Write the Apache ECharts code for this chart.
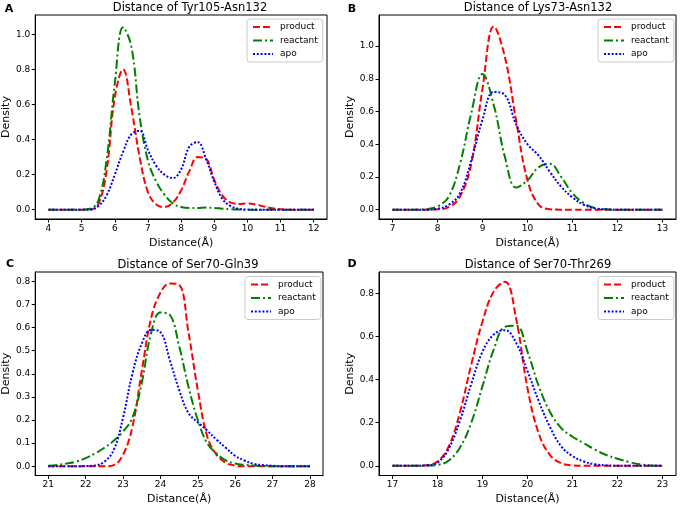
<!DOCTYPE html>
<html><head><meta charset="utf-8">
<script src="https://cdn.jsdelivr.net/npm/echarts@6/dist/echarts.min.js"></script>
<style>html,body{margin:0;padding:0;background:#fff}#c{width:680px;height:506px}</style>
</head><body><div id="c"></div>
<script>
// ---------- DATA ----------
const seriesNames = ['product', 'reactant', 'apo'];

// Panel A: Tyr105-Asn132
const titleA = 'Distance of Tyr105-Asn132';
const xA = [4,4.25,4.5,4.75,5,5.25,5.5,5.75,6,6.25,6.5,6.75,7,7.25,7.5,7.75,8,8.25,8.5,8.75,9,9.25,9.5,9.75,10,10.25,10.5,10.75,11,11.25,11.5,11.75,12];
const productA = [0,0,0,0,0,0.002,0.03,0.22,0.64,0.80,0.58,0.30,0.10,0.03,0.015,0.04,0.11,0.22,0.30,0.29,0.17,0.08,0.04,0.033,0.035,0.03,0.018,0.008,0.002,0,0,0,0];
const reactantA = [0,0,0,0,0,0.005,0.05,0.28,0.72,1.04,0.93,0.53,0.28,0.16,0.085,0.035,0.015,0.01,0.01,0.012,0.01,0.006,0.003,0.001,0,0,0,0,0,0,0,0,0];
const apoA = [0,0,0,0,0,0,0.02,0.08,0.20,0.33,0.43,0.45,0.34,0.25,0.20,0.18,0.23,0.36,0.385,0.29,0.16,0.06,0.02,0.005,0.001,0,0,0,0,0,0,0,0];
const xTicksA = [4,5,6,7,8,9,10,11,12];
const yTicksA = [0,0.2,0.4,0.6,0.8,1.0];

// Panel B: Lys73-Asn132
const titleB = 'Distance of Lys73-Asn132';
const xB = [7,7.25,7.5,7.75,8,8.25,8.5,8.75,9,9.25,9.5,9.75,10,10.25,10.5,10.75,11,11.25,11.5,11.75,12,12.25,12.5,12.75,13];
const productB = [0,0,0,0,0.002,0.015,0.08,0.28,0.74,1.12,0.93,0.54,0.18,0.03,0.003,0,0,0,0,0,0,0,0,0,0];
const reactantB = [0,0,0,0.003,0.02,0.08,0.28,0.59,0.83,0.64,0.32,0.135,0.18,0.26,0.28,0.20,0.10,0.04,0.01,0.002,0,0,0,0,0];
const apoB = [0,0,0,0,0.005,0.03,0.10,0.30,0.55,0.72,0.70,0.52,0.40,0.33,0.23,0.14,0.075,0.03,0.008,0.002,0,0,0,0,0];
const xTicksB = [7,8,9,10,11,12,13];
const yTicksB = [0,0.2,0.4,0.6,0.8,1.0];

// Panel C: Ser70-Gln39
const titleC = 'Distance of Ser70-Gln39';
const xC = [21,21.25,21.5,21.75,22,22.25,22.5,22.75,23,23.25,23.5,23.75,24,24.25,24.5,24.75,25,25.25,25.5,25.75,26,26.25,26.5,26.75,27,27.25,27.5,27.75,28];
const productC = [0,0,0,0,0,0,0,0.005,0.05,0.17,0.41,0.64,0.75,0.79,0.785,0.58,0.33,0.13,0.05,0.015,0.003,0,0,0,0,0,0,0,0];
const reactantC = [0.002,0.006,0.012,0.02,0.035,0.055,0.08,0.11,0.15,0.21,0.36,0.575,0.665,0.655,0.52,0.345,0.20,0.10,0.055,0.025,0.012,0.006,0.003,0.001,0,0,0,0,0];
const apoC = [0,0,0,0,0.001,0.003,0.02,0.07,0.21,0.40,0.53,0.59,0.58,0.46,0.33,0.23,0.19,0.155,0.115,0.08,0.045,0.025,0.01,0.005,0.002,0,0,0,0];
const xTicksC = [21,22,23,24,25,26,27,28];
const yTicksC = [0,0.1,0.2,0.3,0.4,0.5,0.6,0.7,0.8];

// Panel D: Ser70-Thr269
const titleD = 'Distance of Ser70-Thr269';
const xD = [17,17.25,17.5,17.75,18,18.25,18.5,18.75,19,19.25,19.5,19.75,20,20.25,20.5,20.75,21,21.25,21.5,21.75,22,22.25,22.5,22.75,23];
const productD = [0,0,0,0.003,0.02,0.09,0.25,0.47,0.67,0.81,0.855,0.68,0.36,0.15,0.05,0.012,0.002,0,0,0,0,0,0,0,0];
const reactantD = [0,0,0,0,0.004,0.025,0.085,0.20,0.37,0.54,0.645,0.65,0.53,0.37,0.25,0.175,0.135,0.105,0.075,0.05,0.033,0.018,0.007,0.002,0];
const apoD = [0,0,0,0.002,0.015,0.08,0.21,0.38,0.53,0.61,0.63,0.57,0.44,0.30,0.18,0.09,0.045,0.02,0.007,0.002,0,0,0,0,0];
const xTicksD = [17,18,19,20,21,22,23];
const yTicksD = [0,0.2,0.4,0.6,0.8];

const xLabel = 'Distance(Å)';
const yLabel = 'Density';

// ---------- LAYOUT / STYLE ----------
const FONT = 'DejaVu Sans';
const styles = {
  product: {color: '#ff0000', type: [7, 3]},
  reactant: {color: '#008000', type: [9, 3, 2, 3]},
  apo: {color: '#0000ff', type: [2, 1.8]}
};
const panels = [
  {letter: 'A', title: titleA, x: xA, vals: [productA, reactantA, apoA], xt: xTicksA, yt: yTicksA,
   grid: {left: 33, top: 15, width: 294, height: 204}, xr: [3.6, 12.4], yr: [-0.053, 1.11],
   titlePos: [190, 8], letterPos: [9, 9], legendPos: [247, 19]},
  {letter: 'B', title: titleB, x: xB, vals: [productB, reactantB, apoB], xt: xTicksB, yt: yTicksB,
   grid: {left: 379, top: 15, width: 297, height: 204}, xr: [6.7, 13.3], yr: [-0.057, 1.19],
   titlePos: [538, 8], letterPos: [352, 9], legendPos: [598, 19]},
  {letter: 'C', title: titleC, x: xC, vals: [productC, reactantC, apoC], xt: xTicksC, yt: yTicksC,
   grid: {left: 33, top: 272, width: 290, height: 205}, xr: [20.65, 28.35], yr: [-0.04, 0.84],
   titlePos: [188, 265], letterPos: [10, 264.5], legendPos: [245, 276.5]},
  {letter: 'D', title: titleD, x: xD, vals: [productD, reactantD, apoD], xt: xTicksD, yt: yTicksD,
   grid: {left: 379, top: 272, width: 297, height: 205}, xr: [16.7, 23.3], yr: [-0.045, 0.90],
   titlePos: [538, 265], letterPos: [352, 264.5], legendPos: [598, 276.5]}
];

const grids = [], xAxes = [], yAxes = [], series = [], legends = [], graphics = [];
panels.forEach((p, i) => {
  grids.push(Object.assign({show: true, borderColor: '#000', borderWidth: 1, backgroundColor: 'transparent'}, p.grid));
  xAxes.push({
    type: 'value', gridIndex: i, min: p.xr[0], max: p.xr[1],
    name: xLabel, nameLocation: 'middle', nameGap: 18.5,
    nameTextStyle: {fontFamily: FONT, fontSize: 11, color: '#000'},
    axisLine: {onZero: false, lineStyle: {color: '#000', width: 1}},
    axisTick: {show: true, inside: false, length: 3.5, lineStyle: {color: '#000'}, customValues: p.xt},
    axisLabel: {fontFamily: FONT, fontSize: 9, color: '#000', margin: 5, customValues: p.xt},
    splitLine: {show: false}
  });
  yAxes.push({
    type: 'value', gridIndex: i, min: p.yr[0], max: p.yr[1],
    name: yLabel, nameLocation: 'middle', nameGap: 21,
    nameTextStyle: {fontFamily: FONT, fontSize: 11, color: '#000'},
    axisLine: {show: true, onZero: false, lineStyle: {color: '#000', width: 1}},
    axisTick: {show: true, inside: false, length: 3.5, lineStyle: {color: '#000'}, customValues: p.yt},
    axisLabel: {fontFamily: FONT, fontSize: 9, color: '#000', margin: 5, customValues: p.yt,
      formatter: v => v.toFixed(1)},
    splitLine: {show: false}
  });
  seriesNames.forEach((name, k) => {
    const st = styles[name];
    series.push({
      name: name, type: 'line', xAxisIndex: i, yAxisIndex: i,
      data: p.x.map((xv, j) => [xv, p.vals[k][j]]),
      showSymbol: false, symbol: 'none', smooth: 0.4,
      lineStyle: {color: st.color, width: 2, type: st.type},
      itemStyle: {color: st.color},
      z: 3 + k
    });
  });
  legends.push({
    orient: 'vertical', left: p.legendPos[0], top: p.legendPos[1],
    data: seriesNames, selectedMode: false,
    itemWidth: 20, itemHeight: 10, itemGap: 3.5, padding: [3, 5, 3, 5],
    itemStyle: {opacity: 0, color: 'transparent', borderWidth: 0},
    lineStyle: {width: 2},
    backgroundColor: 'rgba(255,255,255,0.85)', borderColor: '#cccccc', borderWidth: 1, borderRadius: 3,
    textStyle: {fontFamily: FONT, fontSize: 9, color: '#000', lineHeight: 10, padding: [0, 0, 0, 2]}
  });
  graphics.push({
    type: 'text', x: p.titlePos[0], y: p.titlePos[1],
    style: {text: p.title, font: '11.5px "DejaVu Sans"', fill: '#000',
      textAlign: 'center', textVerticalAlign: 'middle', align: 'center', verticalAlign: 'middle'}
  });
  graphics.push({
    type: 'text', x: p.letterPos[0], y: p.letterPos[1],
    style: {text: p.letter, font: 'bold 11px "DejaVu Sans"', fill: '#000',
      textAlign: 'center', textVerticalAlign: 'middle', align: 'center', verticalAlign: 'middle'}
  });
});

const chart = echarts.init(document.getElementById('c'), null, {renderer: 'canvas'});
chart.setOption({
  animation: false,
  backgroundColor: '#fff',
  grid: grids, xAxis: xAxes, yAxis: yAxes, series: series, legend: legends,
  graphic: {elements: graphics}
});
</script>
</body></html>
